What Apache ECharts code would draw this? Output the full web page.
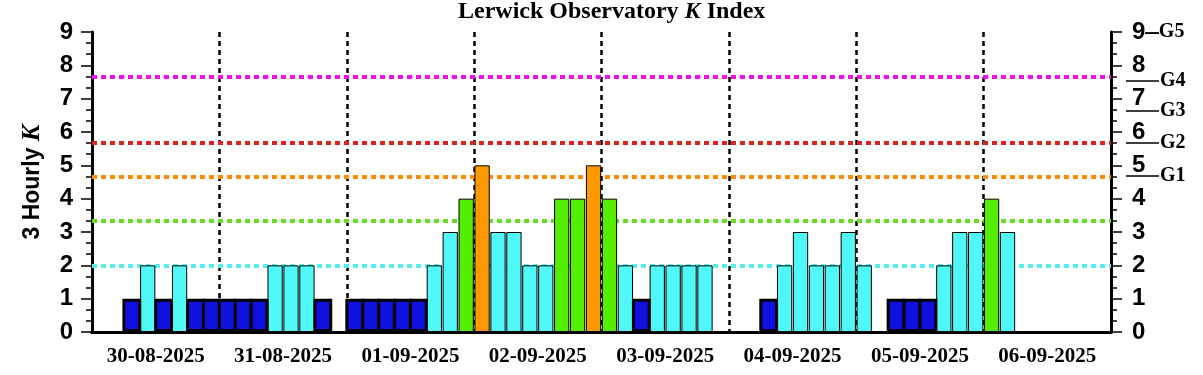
<!DOCTYPE html>
<html>
<head>
<meta charset="utf-8">
<script src="https://cdn.jsdelivr.net/npm/echarts@6/dist/echarts.min.js"></script>
<style>
  html, body { margin: 0; padding: 0; background: #fff; }
  #main { width: 1203px; height: 375px; }
</style>
</head>
<body>
<div id="main"></div>
<script>
// days shown on the x axis, 8 three-hour intervals each
var days = ['30-08-2025', '31-08-2025', '01-09-2025', '02-09-2025',
            '03-09-2025', '04-09-2025', '05-09-2025', '06-09-2025'];
var hours = ['00', '03', '06', '09', '12', '15', '18', '21'];

// 3 hourly K values, one per interval (null = no data yet)
var kValues = [
  0, 0, 1, 2, 1, 2, 1, 1,
  1, 1, 1, 2, 2, 2, 1, 0,
  1, 1, 1, 1, 1, 2, 3, 4,
  5, 3, 3, 2, 2, 4, 4, 5,
  4, 2, 1, 2, 2, 2, 2, 0,
  0, 0, 1, 2, 3, 2, 2, 3,
  2, 0, 1, 1, 1, 2, 3, 3,
  4, 3, null, null, null, null, null, null
];

// horizontal threshold lines
var thresholds = [2, 3.33, 4.67, 5.67, 7.67];
// G scale marks on the right
var gValues = [4.69, 5.69, 6.64, 7.54];
var gNames = ['G1', 'G2', 'G3', 'G4'];

var chart = echarts.init(document.getElementById('main'));

var slots = [];
days.forEach(function (d) {
  hours.forEach(function (h) { slots.push(d + ' ' + h); });
});

function kColor(k) {
  if (k <= 1) return '#1010e0';
  if (k <= 3) return '#50f8f8';
  if (k <= 4) return '#55ee00';
  return '#ff9900';
}
var lineColors = ['#55eeee', '#66dd22', '#ff8c00', '#dd2222', '#ee11ee'];

// K=1 bars have a heavy outline, so they go on their own (hidden) axis
var quietData = kValues.map(function (k) {
  if (k === null || k === 1) return null;
  return { value: k, itemStyle: { color: kColor(k) } };
});
var lowData = kValues.map(function (k) {
  return k === 1 ? k : null;
});

var sans = 'Liberation Sans';
var serif = 'Liberation Serif';
var black = '#000';

var option;
option = {
  animation: false,
  title: {
    text: '{a|Lerwick Observatory }{b|K}{a| Index}',
    left: 458,
    top: 0,
    padding: 0,
    textStyle: {
      rich: {
        a: { fontFamily: serif, fontWeight: 'bold', fontSize: 24, color: black },
        b: { fontFamily: serif, fontWeight: 'bold', fontStyle: 'italic', fontSize: 24, color: black }
      }
    }
  },
  grid: {
    left: 92, right: 92, top: 32, bottom: 43,
    outerBoundsMode: 'none'
  },
  xAxis: [
    {
      type: 'category', data: slots, position: 'bottom',
      axisLine: { lineStyle: { color: black, width: 3 } },
      axisTick: { interval: 0, length: 5, lineStyle: { color: black, width: 1.5 } },
      axisLabel: { show: false },
      splitLine: { show: false }
    },
    {
      type: 'category', data: days, position: 'bottom',
      axisLine: { show: false },
      axisTick: { interval: 0, length: 10, lineStyle: { color: black, width: 1.5 } },
      axisLabel: {
        interval: 0, margin: 14, color: black,
        fontFamily: serif, fontWeight: 'bold', fontSize: 21
      },
      splitLine: {
        show: true, interval: 0,
        lineStyle: { color: black, width: 2.5, type: [5, 4] }
      }
    },
    {
      type: 'category', data: slots, position: 'top',
      axisLine: { lineStyle: { color: black, width: 3 } },
      axisTick: { interval: 0, length: 5, lineStyle: { color: black, width: 1.5 } },
      axisLabel: { show: false },
      splitLine: { show: false }
    },
    {
      type: 'category', data: days, position: 'top',
      axisLine: { show: false },
      axisTick: { interval: 0, length: 10, lineStyle: { color: black, width: 1.5 } },
      axisLabel: { show: false },
      splitLine: { show: false }
    },
    {
      type: 'category', data: slots, position: 'bottom', show: false
    }
  ],
  yAxis: [
    {
      type: 'value', position: 'left', min: 0, max: 9, interval: 1,
      name: '{a|3 Hourly }{b|K}',
      nameLocation: 'middle', nameRotate: 90, nameGap: 47,
      nameTextStyle: {
        rich: {
          a: { fontFamily: sans, fontWeight: 'bold', fontSize: 23, color: black },
          b: { fontFamily: serif, fontWeight: 'bold', fontStyle: 'italic', fontSize: 25, color: black }
        }
      },
      axisLine: { show: true, lineStyle: { color: black, width: 3 } },
      axisTick: { show: true, length: 11, lineStyle: { color: black, width: 1.5 } },
      minorTick: { show: true, splitNumber: 3, length: 6, lineStyle: { color: black, width: 1.5 } },
      axisLabel: { margin: 19, color: black, fontFamily: sans, fontWeight: 'bold', fontSize: 24 },
      splitLine: { show: false }
    },
    {
      type: 'value', position: 'right', min: 0, max: 9, interval: 1,
      axisLine: { show: true, lineStyle: { color: black, width: 3 } },
      axisTick: { show: true, length: 11, lineStyle: { color: black, width: 1.5 } },
      minorTick: { show: true, splitNumber: 3, length: 6, lineStyle: { color: black, width: 1.5 } },
      axisLabel: {
        margin: 21, color: black, fontFamily: sans, fontWeight: 'bold', fontSize: 24,
        formatter: function (v) { return v === 9 ? '{n|9}{d|\u2013}{g|G5}' : '{n|' + v + '}'; },
        rich: {
          n: { fontFamily: sans, fontWeight: 'bold', fontSize: 24, color: black },
          d: { fontFamily: serif, fontWeight: 'bold', fontSize: 27, color: black },
          g: { fontFamily: serif, fontWeight: 'bold', fontSize: 20, color: black }
        }
      },
      splitLine: { show: false }
    },
    {
      type: 'value', position: 'right', offset: 15, min: 0, max: 9,
      axisLine: { show: false },
      axisTick: { show: true, length: 33, customValues: gValues, lineStyle: { color: black, width: 1.5 } },
      axisLabel: {
        margin: 34, color: black, customValues: gValues,
        fontFamily: serif, fontWeight: 'bold', fontSize: 20,
        formatter: function (v) { return gNames[gValues.indexOf(v)]; }
      },
      splitLine: { show: false }
    }
  ],
  series: [
    {
      type: 'bar',
      xAxisIndex: 0,
      yAxisIndex: 0,
      barWidth: '96%',
      z: 3,
      itemStyle: { borderColor: black, borderWidth: 1 },
      data: quietData,
      markLine: {
        z: 1,
        silent: true,
        symbol: 'none',
        label: { show: false },
        data: thresholds.map(function (v, i) {
          return { yAxis: v, lineStyle: { color: lineColors[i], width: 4, type: [5, 4] } };
        })
      }
    },
    {
      type: 'bar',
      xAxisIndex: 4,
      yAxisIndex: 0,
      barWidth: '118%',
      z: 3,
      itemStyle: { color: kColor(1), borderColor: black, borderWidth: 3 },
      data: lowData
    }
  ]
};

option && chart.setOption(option);
</script>
</body>
</html>
